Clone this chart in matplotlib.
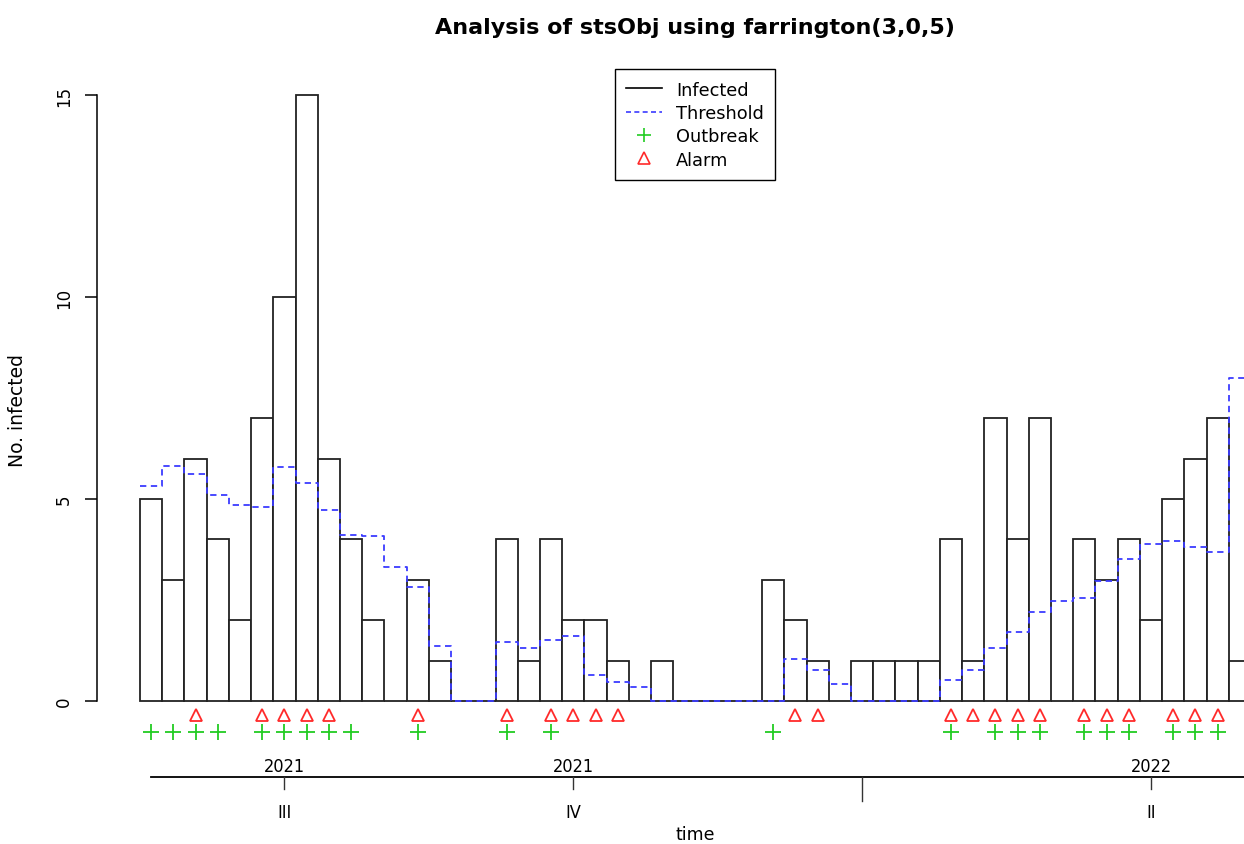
import numpy as np
import matplotlib
matplotlib.use("Agg")
import matplotlib.pyplot as plt
from matplotlib.lines import Line2D

# weekly counts
observed = [5, 3, 6, 4, 2, 7, 10, 15, 6, 4, 2, 0, 3, 1, 0, 0, 4, 1, 4, 2,
            2, 1, 0, 1, 0, 0, 0, 0, 3, 2, 1, 0, 1, 1, 1, 1, 4, 1, 7, 4,
            7, 0, 4, 3, 4, 2, 5, 6, 7, 1]
threshold = [5.33, 5.81, 5.62, 5.10, 4.85, 4.80, 5.78, 5.40, 4.73, 4.11,
             4.09, 3.32, 2.81, 1.37, 0.0, 0.0, 1.45, 1.30, 1.51, 1.60,
             0.64, 0.46, 0.35, 0.0, 0.0, 0.0, 0.0, 0.0, 0.0, 1.04,
             0.77, 0.42, 0.0, 0.0, 0.0, 0.0, 0.53, 0.78, 1.30, 1.70,
             2.21, 2.47, 2.56, 2.98, 3.51, 3.89, 3.95, 3.80, 3.70, 7.99]
alarm = [0, 0, 1, 0, 0, 1, 1, 1, 1, 0, 0, 0, 1, 0, 0, 0, 1, 0, 1, 1,
         1, 1, 0, 0, 0, 0, 0, 0, 0, 1, 1, 0, 0, 0, 0, 0, 1, 1, 1, 1,
         1, 0, 1, 1, 1, 0, 1, 1, 1, 0]
outbreak = [1, 1, 1, 1, 0, 1, 1, 1, 1, 1, 0, 0, 1, 0, 0, 0, 1, 0, 1, 0,
            0, 0, 0, 0, 0, 0, 0, 0, 1, 0, 0, 0, 0, 0, 0, 0, 1, 0, 1, 1,
            1, 0, 1, 1, 1, 0, 1, 1, 1, 0]

# quarter ticks on the time axis (week index, year, quarter)
quarter_weeks = [7, 20, 33, 46]
quarter_years = ["2021", "2021", "", "2022"]
quarter_names = ["III", "IV", "", "II"]

weeks = np.arange(1, len(observed) + 1)

fig = plt.figure(figsize=(12.44, 8.45), dpi=100)
ax = fig.add_axes([97 / 1244, 100 / 845, (1293 - 97) / 1244, 669 / 845])
ax.set_xlim(-1.435, 52.39)
ax.set_ylim(-1.064, 15.495)

# observed counts as outlined bars
ax.bar(weeks, observed, width=1.0, color="white", edgecolor="#222222",
       linewidth=1.3, zorder=2)

# threshold as a dashed step line
edges = np.arange(0.5, len(observed) + 1.5)
ax.step(edges, threshold + [threshold[-1]], where="post", color="#3b3bff",
        linewidth=1.3, dashes=(3.5, 2.5), zorder=3)

# alarms and outbreaks below the bars
alarm_y, outbreak_y = -0.35, -0.77
aw = weeks[np.array(alarm) == 1]
ow = weeks[np.array(outbreak) == 1]
ax.plot(aw, [alarm_y] * len(aw), linestyle="none", marker="^", markersize=9,
        markerfacecolor="none", markeredgecolor="#ff2a2a", markeredgewidth=1.3,
        clip_on=False)
ax.plot(ow, [outbreak_y] * len(ow), linestyle="none", marker="+", markersize=11,
        color="#22cc22", markeredgewidth=1.3, clip_on=False)

# y axis
for s in ["top", "right", "bottom"]:
    ax.spines[s].set_visible(False)
ax.spines["left"].set_bounds(0, 15)
ax.spines["left"].set_linewidth(1.1)
ax.set_yticks([0, 5, 10, 15])
ax.tick_params(axis="y", length=8.5, width=1.1, pad=9, labelsize=12)
for lab in ax.get_yticklabels():
    lab.set_rotation(90)
    lab.set_va("center")
ax.set_xticks([])
ax.set_ylabel("No. infected", fontsize=13.5, labelpad=20)

# time axis below the plot
line_y = -1.88
mid_x = sum(ax.get_xlim()) / 2
ax.plot([1, 52.39], [line_y, line_y], color="black", linewidth=1.3, clip_on=False)
for w, yr, q in zip(quarter_weeks, quarter_years, quarter_names):
    tick_end = line_y - (0.3 if yr else 0.6)
    ax.plot([w, w], [line_y, tick_end], color="#333333", linewidth=1.0, clip_on=False)
    ax.text(w, line_y + 0.04, yr, ha="center", va="bottom", fontsize=13,
            fontstretch="condensed")
    ax.text(w, -2.75, q, ha="center", va="center", fontsize=13,
            fontstretch="condensed")
ax.text(mid_x, -3.3, "time", ha="center", va="center", fontsize=12.5)

fig.text(695 / 1244, 1 - 28 / 845, "Analysis of stsObj using farrington(3,0,5)",
         ha="center", va="center", fontsize=16, fontweight="bold")

handles = [Line2D([], [], color="black", linewidth=1.2),
           Line2D([], [], color="#3b3bff", linewidth=1.2, dashes=(3, 2)),
           Line2D([], [], linestyle="none", marker="+", markersize=10,
                  color="#22cc22", markeredgewidth=1.2),
           Line2D([], [], linestyle="none", marker="^", markersize=8,
                  markerfacecolor="none", markeredgecolor="#ff2a2a",
                  markeredgewidth=1.2)]
leg = ax.legend(handles, ["Infected", "Threshold", "Outbreak", "Alarm"],
                loc="upper center", bbox_to_anchor=(0.5, 1.009), borderaxespad=0,
                fancybox=False, framealpha=1, edgecolor="black", fontsize=12.8,
                labelspacing=0.3, handlelength=2.0, borderpad=0.65)
leg.get_frame().set_linewidth(1.0)

fig.savefig("out.png", dpi=100)
